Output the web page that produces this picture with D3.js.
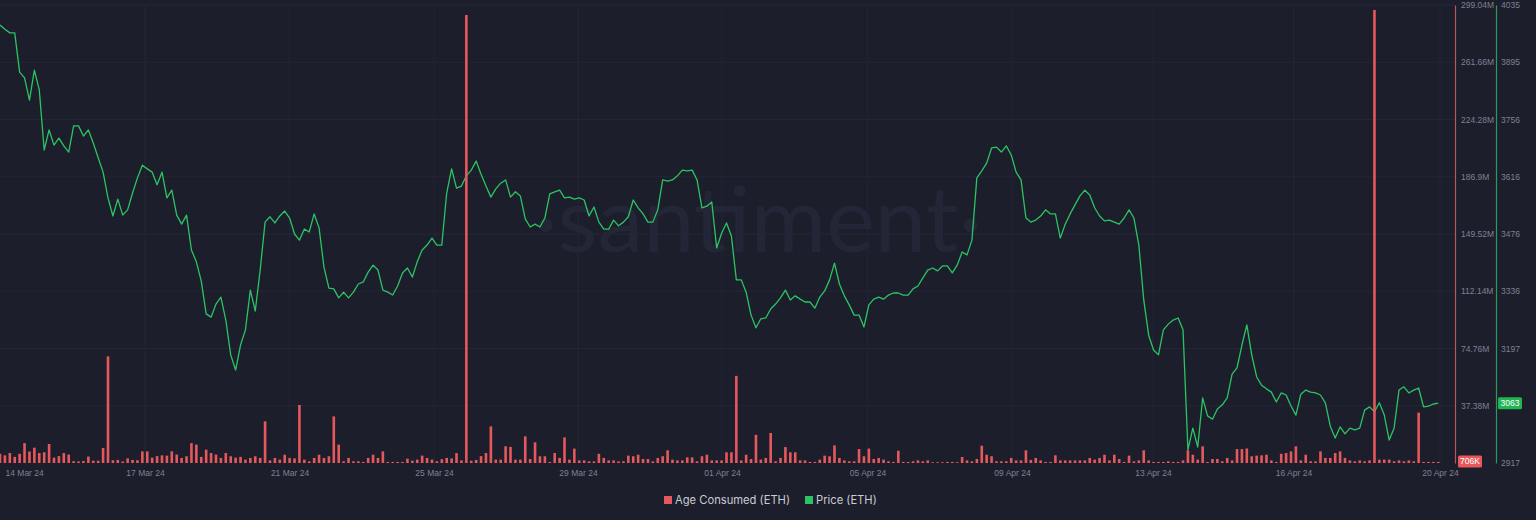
<!DOCTYPE html>
<html><head><meta charset="utf-8">
<script src="https://cdn.jsdelivr.net/npm/d3@7"></script>
<style>
html,body{margin:0;padding:0;background:#1c1e2c;}
svg{display:block;}
</style></head><body>
<svg id="chart" width="1536" height="520"></svg>
<script>
// Price (ETH), USD, sampled every 3 hours
const price = [
3986,3976,3967,3967,3871,3857,3803,3876,3828,3681,
3730,3693,3710,3691,3676,3740,3740,3715,3730,3698,
3662,3627,3564,3520,3561,3522,3535,3576,3613,3644,
3635,3627,3596,3627,3564,3583,3522,3500,3522,3437,
3408,3361,3281,3273,3305,3322,3266,3181,3144,3205,
3242,3339,3288,3388,3505,3518,3503,3520,3532,3515,
3476,3461,3488,3481,3525,3491,3395,3344,3342,3320,
3334,3320,3334,3354,3359,3383,3400,3388,3339,3334,
3327,3349,3381,3393,3371,3408,3437,3449,3466,3449,
3449,3576,3635,3588,3593,3618,3632,3654,3622,3593,
3566,3586,3600,3608,3566,3579,3569,3513,3493,3500,
3493,3515,3574,3579,3583,3564,3566,3561,3564,3559,
3520,3542,3505,3488,3488,3510,3496,3505,3518,3559,
3540,3525,3505,3505,3535,3608,3605,3608,3618,3632,
3630,3632,3608,3540,3544,3554,3442,3478,3503,3471,
3364,3364,3334,3278,3247,3269,3271,3293,3305,3320,
3339,3315,3325,3317,3310,3310,3295,3322,3337,3364,
3405,3354,3325,3303,3278,3278,3249,3303,3317,3322,
3317,3327,3332,3332,3327,3327,3342,3349,3369,3388,
3393,3386,3398,3398,3381,3400,3432,3425,3461,3613,
3630,3649,3686,3688,3676,3691,3669,3627,3608,3515,
3505,3510,3520,3535,3525,3525,3466,3500,3525,3547,
3569,3583,3571,3540,3520,3508,3510,3505,3500,3515,
3535,3515,3449,3315,3229,3193,3181,3242,3256,3266,
3271,3242,2949,3002,2956,3076,3032,3024,3049,3059,
3076,3134,3149,3205,3254,3181,3127,3107,3098,3090,
3066,3088,3083,3056,3034,3085,3095,3090,3088,3083,
3064,3007,2978,3005,2988,3002,2998,3002,3046,3054,
3042,3064,3034,2973,3002,3095,3103,3088,3095,3100,
3054,3056,3061,3063
];
// Age Consumed (ETH), in millions, same 3-hour samples
const ageConsumed = [
6.0,5.0,6.5,4.0,6.0,13.0,7.5,10.0,6.5,7.0,
12.4,3.5,4.5,6.5,5.5,1.2,1.0,1.3,4.2,1.5,
1.5,9.8,69.6,1.8,2.0,1.0,3.0,2.0,1.8,7.6,
7.6,3.5,4.5,5.0,4.8,7.6,5.5,3.3,4.4,13.0,
12.0,4.0,8.7,6.5,5.5,3.3,6.5,4.4,3.5,4.0,
2.2,3.3,4.4,3.3,27.2,1.7,3.3,2.2,5.4,3.3,
3.0,37.9,2.2,1.1,3.3,5.4,3.3,4.4,30.4,12.0,
1.1,3.3,1.1,1.1,0.7,3.3,5.4,3.3,7.6,0.7,
0.7,0.7,0.7,2.8,1.5,2.2,4.8,3.3,2.2,1.1,
2.5,3.3,3.0,6.5,1.7,292.5,1.5,2.0,4.5,6.5,
23.9,2.2,2.2,10.9,10.5,2.2,2.2,17.4,2.6,13.5,
4.4,4.4,0.7,6.5,3.3,16.7,2.2,9.4,1.7,1.7,
1.1,1.1,6.0,3.3,1.7,1.7,1.1,1.1,4.8,4.4,
5.4,2.6,2.6,1.1,3.3,4.4,8.3,2.2,1.7,1.7,
3.7,3.7,1.1,4.4,5.4,1.7,1.7,1.7,7.0,7.0,
56.9,1.7,5.4,2.6,18.4,2.2,3.3,19.6,1.1,3.3,
10.4,7.0,7.0,1.7,1.7,0.7,0.7,2.2,4.8,4.4,
11.5,3.3,1.7,1.1,1.1,9.1,4.4,9.4,2.6,3.3,
2.2,1.1,0.7,8.0,0.7,0.7,1.1,1.7,1.1,1.7,
0.5,0.5,0.5,0.7,0.7,0.5,3.9,1.7,1.1,2.6,
11.3,5.4,4.4,1.1,1.1,1.1,3.3,1.7,1.7,8.3,
2.0,3.3,1.7,0.7,0.7,5.0,1.7,1.7,1.7,1.7,
1.7,1.7,3.3,2.2,3.3,5.4,1.7,5.4,2.6,0.7,
4.8,1.1,1.7,8.3,1.7,0.7,0.7,0.7,1.1,0.7,
0.7,1.7,8.3,5.4,2.2,10.9,0.7,2.6,2.6,1.1,
3.3,1.7,9.1,9.1,9.5,4.4,4.8,5.0,5.4,1.7,
0.7,6.0,6.5,7.6,10.9,1.7,5.4,1.1,1.1,7.6,
3.3,3.3,6.5,7.6,3.3,1.7,1.1,1.7,1.1,1.7,
295.8,2.2,2.2,2.2,1.1,1.7,1.1,1.7,1.1,32.9,
0.7,0.7,0.7,0.706
];
// x-axis ticks (positions in sample index units) and labels
const dateTickPos = [0.2, 29.54, 58.98, 88.41, 117.75, 147.08, 176.72, 206.16, 234.88, 263.5, 293.35];
const dateTickLabels = ["14 Mar 24","17 Mar 24","21 Mar 24","25 Mar 24","29 Mar 24","01 Apr 24","05 Apr 24","09 Apr 24","13 Apr 24","16 Apr 24","20 Apr 24"];
// Age Consumed axis (millions)
const ageTicks = [37.38, 74.76, 112.14, 149.52, 186.9, 224.28, 261.66, 299.04];
const ageTickLabels = ["37.38M","74.76M","112.14M","149.52M","186.9M","224.28M","261.66M","299.04M"];
// Price axis
const priceTicks = [2917, 3196.5, 3336.25, 3476, 3615.75, 3755.5, 3895.25, 4035];
const priceTickLabels = ["2917","3197","3336","3476","3616","3756","3895","4035"];
const lastAgeLabel = "706K";
const lastPriceLabel = "3063";
const seriesNames = ["Age Consumed (ETH)", "Price (ETH)"];

(function(){
const C = {bg:"#1c1e2c", grid:"#232635", text:"#7d8293", red:"#e5585b", redAxis:"#b9565b", green:"#2cc463", greenAxis:"#2a9a57", legend:"#c9ccd4", wm:"#232636"};
const svg = d3.select("#chart");
svg.append("rect").attr("width",1536).attr("height",520).attr("fill",C.bg);

const yTop = 5, yBottom = 463;
const x = d3.scaleLinear().domain([0, 296]).range([0, 1453]);
const yAge = d3.scaleLinear().domain([0, 299.04]).range([yBottom, yTop]);
const yPrice = d3.scaleLinear().domain([2917, 4035]).range([yBottom, yTop]);

// grid
const grid = svg.append("g");
grid.selectAll("line.h").data(ageTicks).join("line").attr("class","h")
  .attr("x1",0).attr("x2",1455).attr("y1",d=>yAge(d)).attr("y2",d=>yAge(d))
  .attr("stroke",C.grid).attr("stroke-width",1);
grid.selectAll("line.v").data(dateTickPos.slice(1)).join("line").attr("class","v")
  .attr("x1",d=>x(d)).attr("x2",d=>x(d)).attr("y1",yTop).attr("y2",yBottom)
  .attr("stroke",C.grid).attr("stroke-width",1);

// watermark
svg.append("text").attr("x",758).attr("y",252).attr("text-anchor","middle")
  .attr("font-family","Lato, 'Open Sans', sans-serif").attr("font-size",92).attr("font-weight",400)
  .attr("fill",C.wm).text("·santiment·");

// price line
const line = d3.line().x((d,i)=>x(i)).y(d=>yPrice(d));
svg.append("path").datum(price).attr("d",line).attr("fill","none")
  .attr("stroke",C.green).attr("stroke-width",1.3).attr("stroke-linejoin","round");

// bars
svg.append("g").selectAll("rect").data(ageConsumed).join("rect")
  .attr("x",(d,i)=>x(i)-1.3).attr("width",2.6)
  .attr("y",d=>yAge(d)).attr("height",d=>yBottom-yAge(d))
  .attr("fill",C.red);

// axes
const fontFam = "'Liberation Sans', Arial, sans-serif";
const fs = 8.5;
const ageAxis = svg.append("g").attr("transform","translate(1455,0)")
  .call(d3.axisRight(yAge).tickValues(ageTicks).tickFormat((d,i)=>ageTickLabels[i]).tickSize(0).tickSizeOuter(0).tickPadding(6));
ageAxis.select(".domain").attr("stroke",C.redAxis).attr("stroke-width",1.2);
ageAxis.selectAll("text").attr("fill",C.text).attr("font-size",fs).attr("font-family",fontFam);

const priceAxis = svg.append("g").attr("transform","translate(1496,0)")
  .call(d3.axisRight(yPrice).tickValues(priceTicks).tickFormat((d,i)=>priceTickLabels[i]).tickSize(0).tickSizeOuter(0).tickPadding(5));
priceAxis.select(".domain").attr("stroke",C.greenAxis).attr("stroke-width",1.2);
priceAxis.selectAll("text").attr("fill",C.text).attr("font-size",fs).attr("font-family",fontFam);

const xAxis = svg.append("g").attr("transform",`translate(0,${yBottom})`)
  .call(d3.axisBottom(x).tickValues(dateTickPos).tickFormat((d,i)=>dateTickLabels[i]).tickSize(0).tickPadding(7));
xAxis.select(".domain").remove();
xAxis.selectAll("text").attr("fill",C.text).attr("font-size",fs).attr("font-family",fontFam);
xAxis.selectAll(".tick").filter((d,i)=>i===0).select("text").attr("text-anchor","start").attr("x",4);

// last value tags
function tag(xl, yc, w, label, fill){
  const g = svg.append("g");
  g.append("rect").attr("x",xl).attr("y",yc-6).attr("width",w).attr("height",12).attr("rx",1.5).attr("fill",fill);
  g.append("text").attr("x",xl+w/2).attr("y",yc).attr("dy","0.35em").attr("text-anchor","middle")
    .attr("font-size",fs).attr("font-family",fontFam).attr("fill","#ffffff").text(label);
}
tag(1458, yAge(ageConsumed[ageConsumed.length-1]) - 0.5, 24, lastAgeLabel, "#e8585b");
tag(1498, yPrice(price[price.length-1]), 24, lastPriceLabel, "#22b552");

// legend
const leg = svg.append("g").attr("font-family","Inter, 'Open Sans', sans-serif").attr("font-size",11.2);
const items = [{n:seriesNames[0], c:C.red, x:664},{n:seriesNames[1], c:C.green, x:805}];
items.forEach(it=>{
  leg.append("rect").attr("x",it.x).attr("y",496).attr("width",8).attr("height",8).attr("fill",it.c);
  leg.append("text").attr("x",it.x+11).attr("y",500).attr("dy","0.35em").attr("fill",C.legend).text(it.n);
});
})();
</script>
</body></html>
